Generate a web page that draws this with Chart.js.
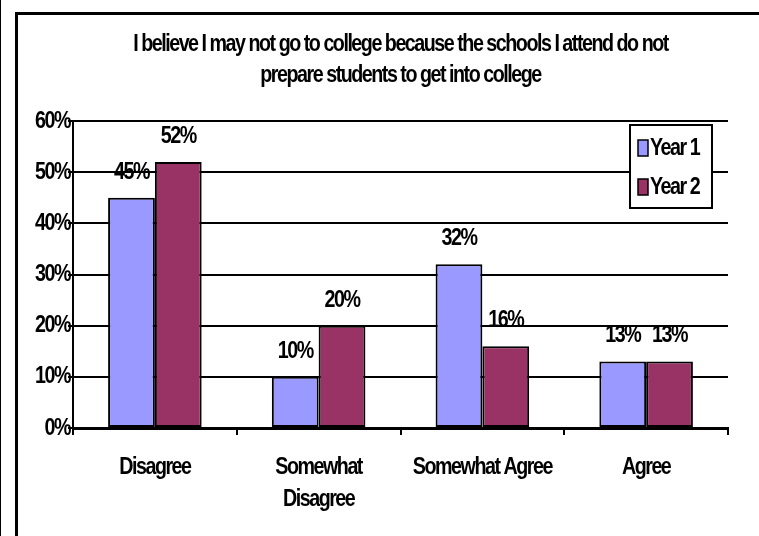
<!DOCTYPE html>
<html>
<head>
<meta charset="utf-8">
<script src="https://cdn.jsdelivr.net/npm/chart.js@4.4.0/dist/chart.umd.min.js"></script>
<style>
  html, body { margin: 0; padding: 0; background: #fff; }
  body { width: 759px; height: 536px; position: relative; overflow: hidden; }
  .edge { position: absolute; left: 0; top: 0; width: 1px; height: 536px; background: #000; }
  .frame { position: absolute; left: 15px; top: 12px; width: 800px; height: 600px;
           border-left: 3px solid #000; border-top: 3px solid #000; }
  #wrap { position: absolute; left: 0; top: 0; width: 759px; height: 536px; }
</style>
</head>
<body>
<div class="edge"></div>
<div class="frame"></div>
<div id="wrap"><canvas id="surveyChart"></canvas></div>
<script>
const categories = ['Disagree', ['Somewhat', 'Disagree'], 'Somewhat Agree', 'Agree'];
const year1 = [45, 10, 32, 13];
const year2 = [52, 20, 16, 13];
const yTicks = [0, 10, 20, 30, 40, 50, 60];
const seriesNames = ['Year 1', 'Year 2'];
const titleLines = [
    'I believe I may not go to college because the schools I attend do not',
    'prepare students to get into college'
];

const FONT = "'Liberation Sans', Arial, sans-serif";
const FONT_SIZE = 24;
const TEXT_SQUEEZE = 0.82;
Chart.defaults.font.family = FONT;
Chart.defaults.color = '#000';

// narrow, tight lettering: every fillText is squeezed horizontally around its anchor
const condensedText = {
    id: 'condensedText',
    beforeInit(chart) {
        const ctx = chart.ctx;
        const fill = ctx.fillText.bind(ctx);
        ctx.fillText = function (text, x, y, maxWidth) {
            this.save();
            this.translate(x, y);
            this.scale(TEXT_SQUEEZE, 1);
            if (maxWidth === undefined) fill(text, 0, 0);
            else fill(text, 0, 0, maxWidth / TEXT_SQUEEZE);
            this.restore();
        };
    },
    beforeDraw(chart) {
        chart.ctx.letterSpacing = '-1.8px';
    }
};

// value labels sitting above each bar
const barValueLabels = {
    id: 'barValueLabels',
    afterDatasetsDraw(chart) {
        const ctx = chart.ctx;
        ctx.save();
        ctx.font = 'bold ' + FONT_SIZE + 'px ' + FONT;
        ctx.fillStyle = '#000';
        ctx.textAlign = 'center';
        ctx.textBaseline = 'alphabetic';
        chart.data.datasets.forEach((ds, i) => {
            chart.getDatasetMeta(i).data.forEach((bar, j) => {
                ctx.fillText(ds.data[j] + '%', bar.x, bar.y - 19);
            });
        });
        ctx.restore();
    }
};

// boxed legend inside the plot, top right
const boxLegend = {
    id: 'boxLegend',
    afterDraw(chart) {
        const ctx = chart.ctx;
        const x = 630, y = 125, w = 82, h = 83;
        ctx.save();
        ctx.fillStyle = '#fff';
        ctx.fillRect(x, y, w, h);
        ctx.lineWidth = 2;
        ctx.strokeStyle = '#000';
        ctx.strokeRect(x, y, w, h);
        ctx.font = 'bold ' + FONT_SIZE + 'px ' + FONT;
        ctx.textAlign = 'left';
        ctx.textBaseline = 'middle';
        chart.data.datasets.forEach((ds, i) => {
            const cy = y + 23 + i * 39;
            ctx.fillStyle = ds.backgroundColor;
            ctx.fillRect(x + 8, cy - 8, 10, 16);
            ctx.lineWidth = 1.5;
            ctx.strokeRect(x + 8, cy - 8, 10, 16);
            ctx.fillStyle = '#000';
            ctx.fillText(ds.label, x + 20, cy);
        });
        ctx.restore();
    }
};

const ctx = document.getElementById('surveyChart');
new Chart(ctx.getContext('2d'), {
    type: 'bar',
    data: {
        labels: categories,
        datasets: [
            { label: seriesNames[0], data: year1, backgroundColor: '#9999ff' },
            { label: seriesNames[1], data: year2, backgroundColor: '#993366' }
        ].map(ds => Object.assign(ds, {
            borderColor: '#000',
            borderWidth: 2,
            borderSkipped: false,
            categoryPercentage: 2 / 3.5,
            barPercentage: 1
        }))
    },
    options: {
        responsive: true,
        maintainAspectRatio: false,
        animation: false,
        layout: { padding: { left: 0, right: 31, top: 0, bottom: 0 } },
        plugins: {
            legend: { display: false },
            tooltip: { enabled: false },
            title: {
                display: true,
                fullSize: false,
                text: titleLines,
                font: { size: FONT_SIZE, weight: 'bold', lineHeight: 31 / FONT_SIZE },
                color: '#000',
                padding: { top: 29, bottom: 30 }
            }
        },
        scales: {
            x: {
                afterFit: scale => { scale.height = 108; },
                grid: {
                    drawOnChartArea: false,
                    drawTicks: true,
                    tickLength: 7,
                    tickColor: '#000',
                    lineWidth: 2
                },
                border: { color: '#000', width: 3 },
                ticks: {
                    font: { size: FONT_SIZE, weight: 'bold', lineHeight: 32 / FONT_SIZE },
                    padding: 16,
                    maxRotation: 0,
                    autoSkip: false
                }
            },
            y: {
                min: yTicks[0],
                max: yTicks[yTicks.length - 1],
                afterFit: scale => { scale.width = 73; },
                afterBuildTicks: scale => { scale.ticks = yTicks.map(v => ({ value: v })); },
                grid: {
                    color: '#000',
                    lineWidth: 2,
                    tickLength: 5,
                    tickColor: '#000'
                },
                border: { color: '#000', width: 2 },
                ticks: {
                    font: { size: FONT_SIZE, weight: 'bold' },
                    padding: -2,
                    callback: v => v + '%'
                }
            }
        }
    },
    plugins: [condensedText, barValueLabels, boxLegend]
});
</script>
</body>
</html>
